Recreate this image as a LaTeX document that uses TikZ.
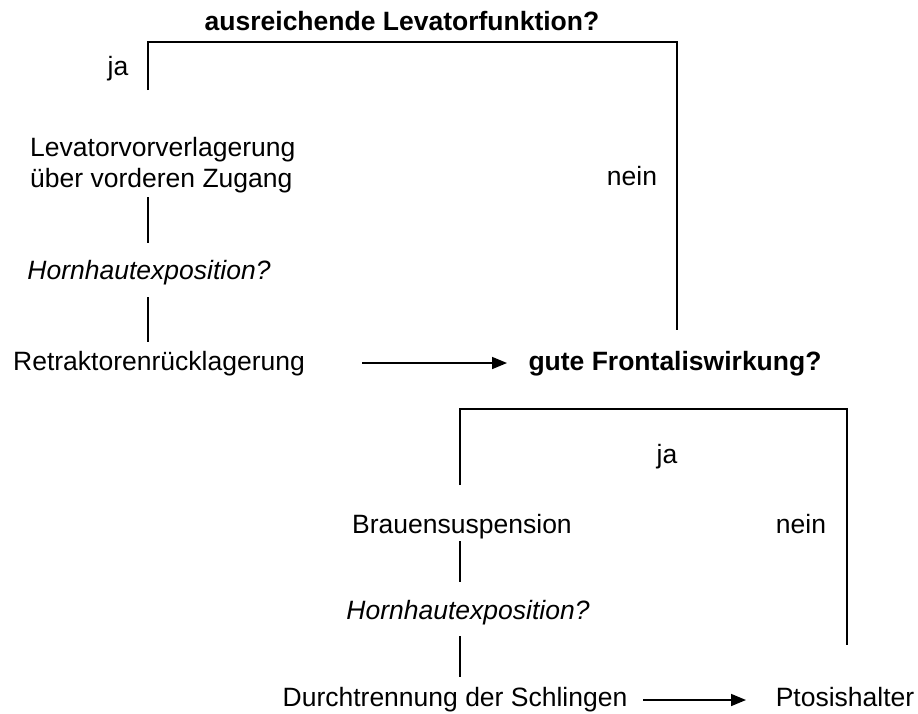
\documentclass[tikz,border=0pt]{standalone}
\usepackage{fontspec}
\setmainfont{Liberation Sans}
\usetikzlibrary{arrows.meta}
\begin{document}
\begin{tikzpicture}[x=1pt,y=-1pt,
  txt/.style={inner sep=0pt,anchor=base,font=\fontsize{26.5}{31}\selectfont},
  btxt/.style={txt,font=\fontsize{26.5}{31}\selectfont\bfseries},
  itxt/.style={txt,font=\fontsize{26.5}{31}\selectfont\itshape},
  ln/.style={line width=1.6pt},
  arr/.style={ln,-{Triangle[length=15pt,width=12pt]}}]
\useasboundingbox (0,0) rectangle (918,713);
% texts
\node[btxt] (q1) at (402,30) {ausreichende Levatorfunktion?};
\node[txt] (ja1) at (118,75) {ja};
\node[txt,anchor=base west] (lev1) at (30,156) {Levatorvorverlagerung};
\node[txt,anchor=base west] (lev2) at (30,187) {über vorderen Zugang};
\node[txt] (nein1) at (632,185) {nein};
\node[itxt] (horn1) at (149,279) {Hornhautexposition?};
\node[txt] (retr) at (159,370) {Retraktorenrücklagerung};
\node[btxt] (q2) at (675,370) {gute Frontaliswirkung?};
\node[txt] (ja2) at (667,463) {ja};
\node[txt] (brau) at (462,533) {Brauensuspension};
\node[txt] (nein2) at (801,533) {nein};
\node[itxt] (horn2) at (468,619) {Hornhautexposition?};
\node[txt] (durch) at (455,706) {Durchtrennung der Schlingen};
\node[txt] (ptos) at (845,706) {Ptosishalter};
% coordinates
\coordinate (b1l) at (148,90);
\coordinate (b1r) at (677,330);
\coordinate (b2l) at (460,485);
\coordinate (b2r) at (847,645);
% connectors
\draw[ln] (b1l) |- (148,42) -| (b1r);
\draw[ln] (148,197) -- (148,243);
\draw[ln] (148,297) -- (148,342);
\draw[arr] (362,363) -- (507,363);
\draw[ln] (b2l) |- (460,409) -| (b2r);
\draw[ln] (460,541) -- (460,582);
\draw[ln] (460,636) -- (460,677);
\draw[arr] (643,700) -- (746,700);
\end{tikzpicture}
\end{document}
